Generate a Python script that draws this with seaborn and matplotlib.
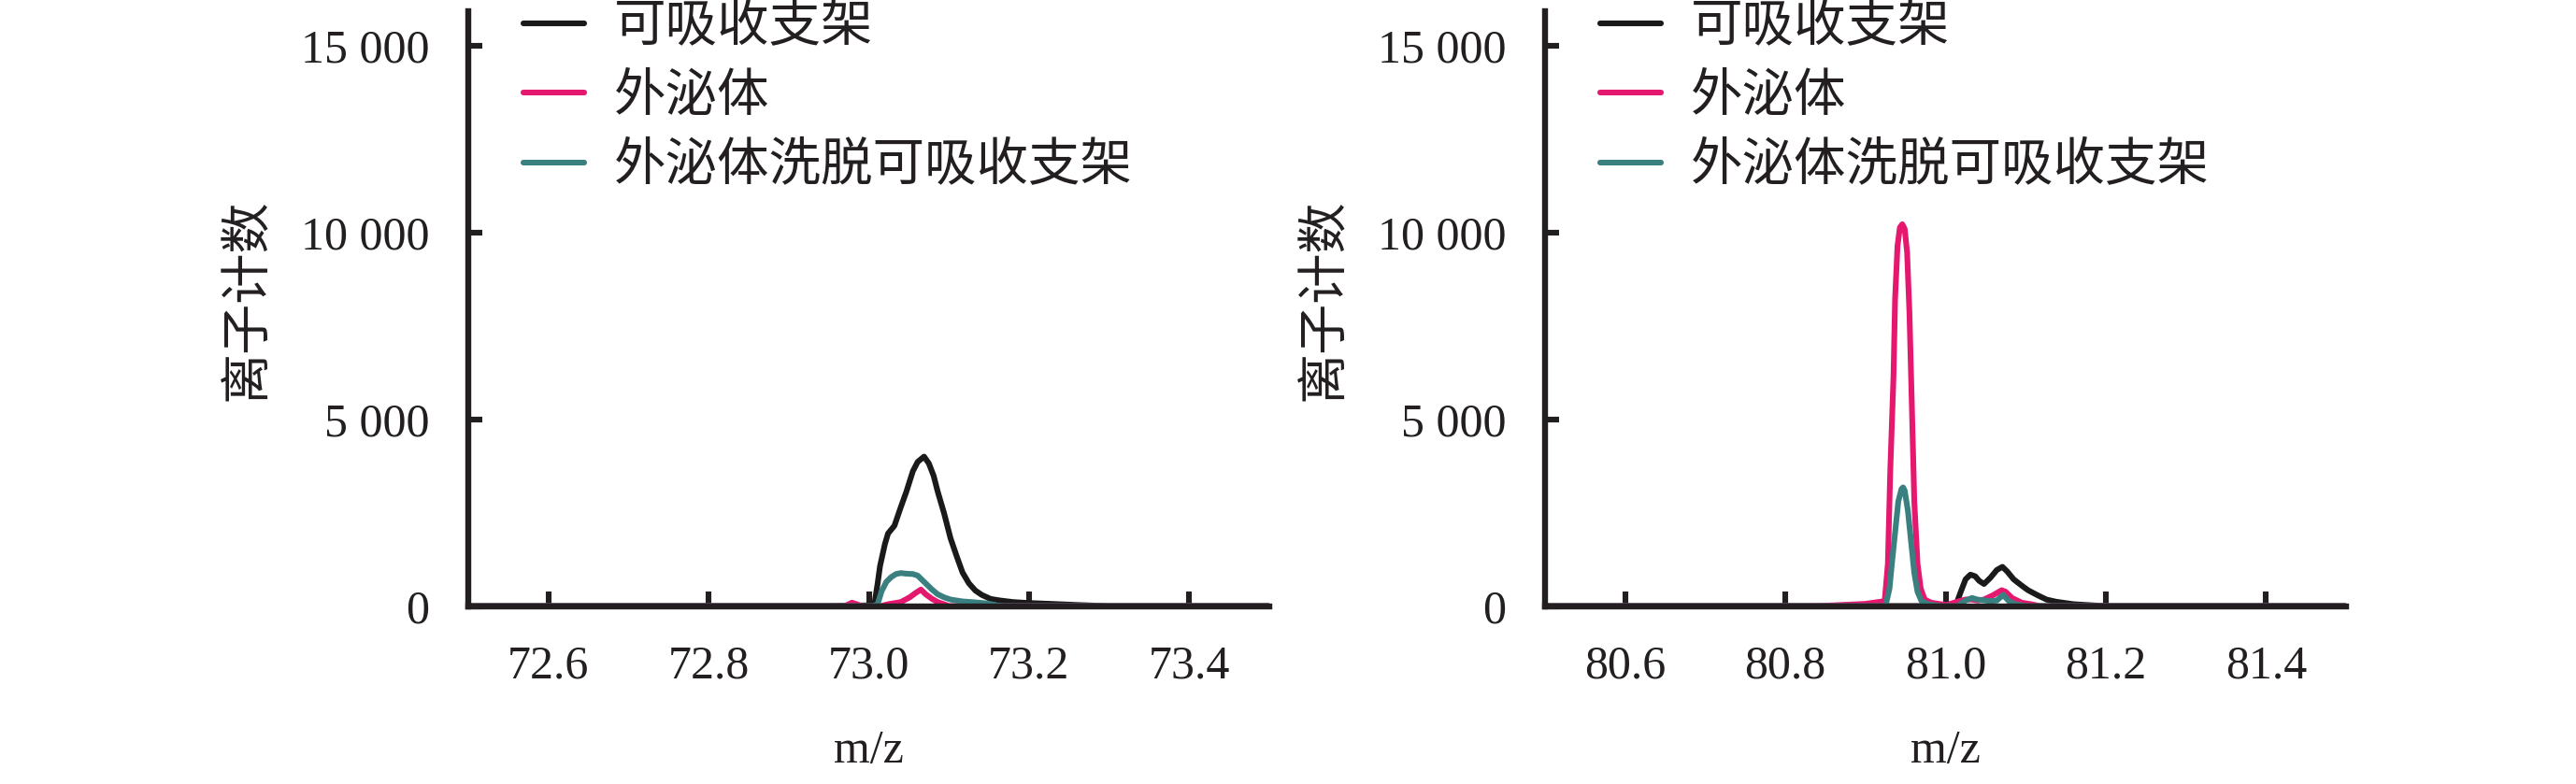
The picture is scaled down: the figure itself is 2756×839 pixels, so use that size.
import numpy as np
import pandas as pd
import matplotlib
matplotlib.use("Agg")
import matplotlib.pyplot as plt
import seaborn as sns

# ---------------- data ----------------
series_names = ["可吸收支架", "外泌体", "外泌体洗脱可吸收支架"]
series_colors = ["#1A1A1A", "#E5186F", "#3B8080"]

x_label = "m/z"
y_label = "离子计数"

y_ticks = [0, 5000, 10000, 15000]
y_tick_labels = ["0", "5 000", "10 000", "15 000"]

left_xlim = [72.5, 73.5]
left_x_ticks = [72.6, 72.8, 73.0, 73.2, 73.4]
left_x_tick_labels = ["72.6", "72.8", "73.0", "73.2", "73.4"]

right_xlim = [80.5, 81.5]
right_x_ticks = [80.6, 80.8, 81.0, 81.2, 81.4]
right_x_tick_labels = ["80.6", "80.8", "81.0", "81.2", "81.4"]

# left panel
left_scaffold_mz = [72.50, 72.95, 73.000, 73.007, 73.011, 73.014, 73.020, 73.024, 73.032, 73.040,
                    73.047, 73.055, 73.061, 73.069, 73.075, 73.081, 73.086, 73.094, 73.102, 73.110,
                    73.117, 73.125, 73.133, 73.141, 73.152, 73.164, 73.180, 73.199, 73.219, 73.26,
                    73.30, 73.50]
left_scaffold_counts = [0, 0, 20, 50, 600, 1068, 1651, 1943, 2152, 2652,
                        3069, 3611, 3861, 4003, 3820, 3486, 3069, 2485, 1818, 1318,
                        901, 609, 417, 300, 192, 150, 108, 83, 67, 30,
                        0, 0]

left_exosome_mz = [72.50, 72.970, 72.979, 72.985, 72.991, 73.015, 73.024, 73.040, 73.051, 73.059,
                   73.065, 73.071, 73.079, 73.086, 73.094, 73.100, 73.50]
left_exosome_counts = [0, 0, 92, 50, 0, 0, 50, 108, 234, 359,
                       442, 317, 192, 108, 50, 0, 0]

left_eluting_mz = [72.50, 73.005, 73.011, 73.016, 73.022, 73.028, 73.034, 73.040, 73.047, 73.055,
                   73.061, 73.067, 73.073, 73.079, 73.086, 73.094, 73.102, 73.117, 73.133, 73.149,
                   73.164, 73.50]
left_eluting_counts = [0, 0, 50, 400, 650, 776, 859, 884, 867, 859,
                       817, 692, 567, 442, 317, 234, 175, 125, 100, 67,
                       0, 0]

# right panel
right_scaffold_mz = [80.50, 81.005, 81.013, 81.019, 81.025, 81.031, 81.037, 81.042, 81.048, 81.056,
                     81.064, 81.071, 81.077, 81.085, 81.095, 81.103, 81.114, 81.126, 81.138, 81.16,
                     81.20, 81.50]
right_scaffold_counts = [0, 0, 30, 384, 717, 842, 800, 676, 592, 759,
                         967, 1051, 926, 717, 550, 425, 300, 175, 117, 50,
                         0, 0]

right_exosome_mz = [80.50, 80.84, 80.90, 80.924, 80.928, 80.931, 80.935, 80.937, 80.940, 80.943,
                    80.946, 80.949, 80.952, 80.955, 80.958, 80.961, 80.965, 80.969, 80.974, 80.982,
                    80.994, 81.002, 81.017, 81.025, 81.033, 81.040, 81.048, 81.060, 81.070, 81.075,
                    81.083, 81.095, 81.107, 81.118, 81.50]
right_exosome_counts = [0, 0, 60, 133, 1134, 3636, 6138, 8223, 9641, 10141,
                        10225, 10100, 9474, 7806, 5304, 2802, 1134, 467, 175, 92,
                        50, 33, 133, 175, 175, 150, 175, 300, 425, 384,
                        217, 92, 50, 0, 0]

right_eluting_mz = [80.50, 80.925, 80.930, 80.933, 80.937, 80.941, 80.945, 80.947, 80.949, 80.953,
                    80.957, 80.961, 80.965, 80.970, 80.978, 80.994, 81.015, 81.025, 81.033, 81.040,
                    81.056, 81.064, 81.072, 81.079, 81.087, 81.100, 81.50]
right_eluting_counts = [0, 0, 467, 1134, 1968, 2802, 3136, 3178, 3094, 2552,
                        1718, 884, 384, 133, 50, 0, 0, 150, 217, 175,
                        133, 150, 300, 133, 50, 0, 0]


def make_df(parts):
    frames = []
    for name, mz, counts in parts:
        frames.append(pd.DataFrame({"mz": mz, "counts": counts, "series": name}))
    return pd.concat(frames, ignore_index=True)


left_df = make_df([
    (series_names[0], left_scaffold_mz, left_scaffold_counts),
    (series_names[1], left_exosome_mz, left_exosome_counts),
    (series_names[2], left_eluting_mz, left_eluting_counts),
])
right_df = make_df([
    (series_names[0], right_scaffold_mz, right_scaffold_counts),
    (series_names[1], right_exosome_mz, right_exosome_counts),
    (series_names[2], right_eluting_mz, right_eluting_counts),
])

# ---------------- style ----------------
sns.set_style("white")
plt.rcParams["font.family"] = ["Liberation Serif", "Noto Sans CJK SC"]
plt.rcParams["axes.unicode_minus"] = False

ink = "#231F20"
palette = dict(zip(series_names, series_colors))
lw = 4.4

W, H = 2756, 839
fig = plt.figure(figsize=(W / 100, H / 100), dpi=100)

ax_w = 857 / W
ax_h = 637 / H
ax_b = (H - 648.6) / H
axes = [fig.add_axes([501 / W, ax_b, ax_w, ax_h]),
        fig.add_axes([1653 / W, ax_b, ax_w, ax_h])]

panels = [(left_df, left_xlim, left_x_ticks, left_x_tick_labels),
          (right_df, right_xlim, right_x_ticks, right_x_tick_labels)]

for ax, (df, xlim, xt, xtl) in zip(axes, panels):
    sns.lineplot(data=df, x="mz", y="counts", hue="series", hue_order=series_names,
                 palette=palette, estimator=None, linewidth=lw, ax=ax, legend=True)
    ax.set_xlim(*xlim)
    ax.set_ylim(0, 15940)
    ax.set_xticks(xt)
    ax.set_xticklabels(xtl)
    ax.set_yticks(y_ticks)
    ax.set_yticklabels(y_tick_labels)
    for s in ["top", "right"]:
        ax.spines[s].set_visible(False)
    for s in ["left", "bottom"]:
        ax.spines[s].set_linewidth(4.6)
        ax.spines[s].set_color(ink)
    ax.tick_params(axis="x", direction="in", length=11.5, width=4.4, color=ink,
                   labelsize=36, pad=30, labelcolor=ink, bottom=True, top=False)
    ax.tick_params(axis="y", direction="in", length=10.5, width=4.4, color=ink,
                   labelsize=36, pad=30, labelcolor=ink, left=True, right=False)
    ax.set_xlabel(x_label, fontsize=36, color=ink, va="center")
    ax.xaxis.set_label_coords(0.5, -0.244)
    ax.set_ylabel(y_label, fontsize=39, color=ink, va="center")
    ax.yaxis.set_label_coords(-0.273, 0.515)

    handles, labels = ax.get_legend_handles_labels()
    leg = ax.legend(handles, labels, loc="upper left", bbox_to_anchor=(0.069, 1.011),
                    frameon=False, fontsize=40, borderpad=0, borderaxespad=0,
                    handlelength=1.17, handletextpad=0.58, labelspacing=0.4)
    for line in leg.get_lines():
        line.set_linewidth(lw)
    for t in leg.get_texts():
        t.set_color(ink)

fig.savefig("out.png", dpi=100, facecolor="white")
